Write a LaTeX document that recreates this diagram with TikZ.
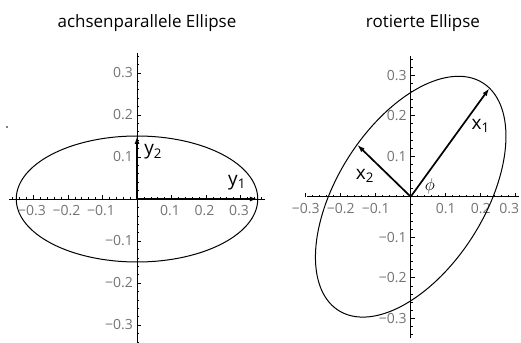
\documentclass[tikz,border=0pt]{standalone}
\usepackage{fontspec}
\setmainfont{Open Sans}
\usetikzlibrary{arrows.meta}

\begin{document}
\begin{tikzpicture}[x=1pt,y=1pt,
  axis/.style={line width=0.9pt},
  tick/.style={line width=0.6pt},
  ell/.style={line width=1pt},
  vec/.style={-{Latex[length=8pt,width=5pt]}, line width=1.7pt},
  ticklbl/.style={text=black!55, font=\fontsize{14}{14}\selectfont, inner sep=0pt},
  veclbl/.style={font=\fontsize{19}{19}\selectfont, inner sep=0pt},
  title/.style={font=\fontsize{17}{17}\selectfont, inner sep=0pt}
]
\useasboundingbox (0,0) rectangle (521,342);

\node[title] (t1) at (147,319) {achsenparallele Ellipse};
\node[title] (t2) at (423,319) {rotierte Ellipse};
\fill (7,215) circle (0.8pt);

% achsenparallele Ellipse
\begin{scope}[shift={(137,143)}, x=345pt, y=420pt]
  \draw[axis] (-0.37,0) -- (0.37,0);
  \draw[axis] (0,-0.345) -- (0,0.348);
  \foreach \i in {-18,...,18} \draw[tick] (\i*0.02,0) -- ++(0,2pt);
  \foreach \i in {-17,...,17} \draw[tick] (0,\i*0.02) -- ++(2pt,0);
  \foreach \i in {-3,...,3} {
    \draw[tick] (\i*0.1,0) -- ++(0,4pt);
    \draw[tick] (0,\i*0.1) -- ++(4pt,0);
  }
  \foreach \v/\s in {-3/−0.3,-2/−0.2,-1/−0.1,1/0.1,2/0.2,3/0.3} {
    \node[ticklbl, anchor=north, yshift=-6pt, xshift=-1.5pt] (lx\v) at (\v/10,0) {\s};
    \node[ticklbl, anchor=east, xshift=-4pt] (ly\v) at (0,\v/10) {\s};
  }
  \draw[ell] (0,0) ellipse [x radius=0.35, y radius=0.15];
  \coordinate (o1) at (0,0);
  \coordinate (y1) at (0.35,0);
  \coordinate (y2) at (0,0.15);
  \draw[vec] (o1) -- (y1);
  \draw[vec] (o1) -- (y2);
  \node[veclbl] (ny1) at (0.29,0.04) {y\textsubscript{1}};
  \node[veclbl] (ny2) at (0.047,0.112) {y\textsubscript{2}};
\end{scope}

% rotierte Ellipse
\begin{scope}[shift={(410.7,145.3)}, x=350pt, y=405pt]
  \draw[axis] (-0.295,0) -- (0.31,0);
  \draw[axis] (0,-0.35) -- (0,0.347);
  \foreach \i in {-14,...,15} \draw[tick] (\i*0.02,0) -- ++(0,2pt);
  \foreach \i in {-17,...,17} \draw[tick] (0,\i*0.02) -- ++(2pt,0);
  \foreach \i in {-3,...,3} {
    \draw[tick] (\i*0.1,0) -- ++(0,4pt);
    \draw[tick] (0,\i*0.1) -- ++(4pt,0);
  }
  \foreach \v/\s in {-3/−0.3,-2/−0.2,-1/−0.1,1/0.1,2/0.2} {
    \node[ticklbl, anchor=north, yshift=-6pt] (rx\v) at (\v/10,0) {\s};
  }
  \node[ticklbl, anchor=north east, yshift=-6pt] (rx3) at (0.31,0) {0.3};
  \foreach \v/\s in {-3/−0.3,-2/−0.2,-1/−0.1,1/0.1,2/0.2,3/0.3} {
    \node[ticklbl, anchor=east, xshift=-4pt] (ry\v) at (0,\v/10) {\s};
  }
  \draw[ell, domain=0:360, samples=145, smooth, variable=\t]
    plot ({0.35*cos(\t)*cos(50)-0.2*sin(\t)*sin(50)},
          {0.35*cos(\t)*sin(50)+0.2*sin(\t)*cos(50)});
  \coordinate (o2) at (0,0);
  \coordinate (x1) at ({0.35*cos(50)},{0.35*sin(50)});
  \coordinate (x2) at ({0.2*cos(140)},{0.2*sin(140)});
  \draw[vec] (o2) -- (x1);
  \draw[vec] (o2) -- (x2);
  \node[veclbl] (nx1) at (0.2,0.175) {x\textsubscript{1}};
  \node[veclbl] (nx2) at (-0.131,0.051) {x\textsubscript{2}};
  \node[font=\fontsize{17}{17}\selectfont, inner sep=0pt] (nphi) at (0.055,0.026) {$\phi$};
\end{scope}
\end{tikzpicture}
\end{document}
